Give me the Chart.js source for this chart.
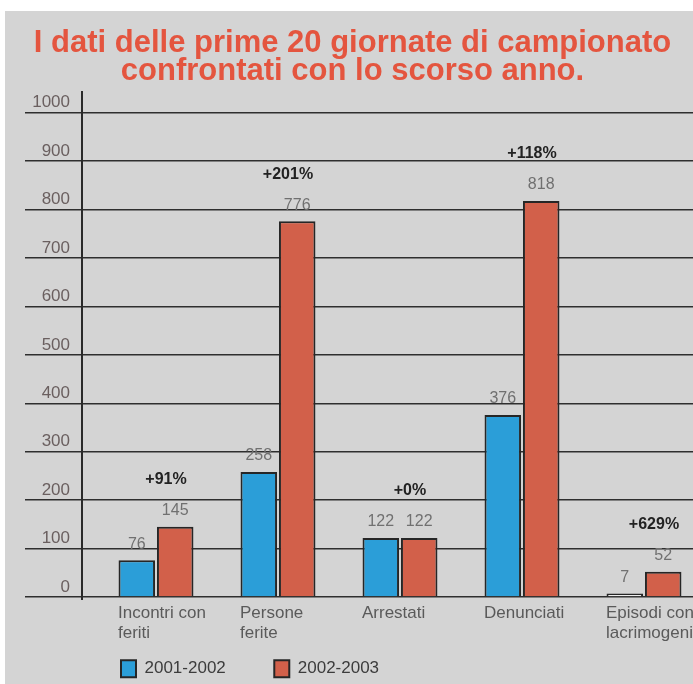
<!DOCTYPE html>
<html><head><meta charset="utf-8">
<script src="https://cdn.jsdelivr.net/npm/chart.js@4"></script>
<style>
html,body{margin:0;padding:0;background:#fff;overflow:hidden;width:693px;height:684px;}
#bg{position:absolute;left:5px;top:11px;width:700px;height:673px;background:#d4d4d4;}
#c{position:absolute;left:0;top:0;}
</style></head><body>
<div id="bg"></div>
<canvas id="c" width="705" height="684"></canvas>
<script>
const categories = [['Incontri con','feriti'],['Persone','ferite'],['Arrestati'],['Denunciati'],['Episodi con','lacrimogeni']];
const season2001 = [76, 258, 122, 376, 7];
const season2002 = [145, 776, 122, 818, 52];
const changeLabels = ['+91%', '+201%', '+0%', '+118%', '+629%'];
const seriesNames = ['2001-2002', '2002-2003'];
const titleLines = ['I dati delle prime 20 giornate di campionato', 'confrontati con lo scorso anno.'];

const FONT = '"Liberation Sans", Arial, sans-serif';
const BLUE = '#2b9ed8', RED = '#d2604a', EDGE = '#262626';

const annot = {
  id: 'annot',
  afterDatasetsDraw(chart) {
    const ctx = chart.ctx, a = chart.chartArea, ys = chart.scales.y, xs = chart.scales.x;
    ctx.save();
    ctx.strokeStyle = '#2a2a2a'; ctx.lineWidth = 2;
    ctx.beginPath();
    ctx.moveTo(a.left - 13, ys.getPixelForValue(1045));
    ctx.lineTo(a.left - 13, a.bottom + 3);
    ctx.stroke();
    ctx.textAlign = 'center'; ctx.textBaseline = 'middle';
    ctx.font = '16px ' + FONT; ctx.fillStyle = '#707070';
    chart.data.datasets.forEach((ds, di) => {
      chart.getDatasetMeta(di).data.forEach((bar, i) => {
        ctx.fillText(String(ds.data[i]), bar.x, bar.y - 16);
      });
    });
    ctx.font = 'bold 16px ' + FONT; ctx.fillStyle = '#222';
    const m0 = chart.getDatasetMeta(0), m1 = chart.getDatasetMeta(1);
    changeLabels.forEach((t, i) => {
      const top = Math.min(m0.data[i].y, m1.data[i].y);
      ctx.fillText(t, xs.getPixelForValue(i) + 10, top - 47);
    });
    ctx.restore();
  }
};

new Chart(document.getElementById('c'), {
  type: 'bar',
  data: {
    labels: categories,
    datasets: [
      { label: seriesNames[0], data: season2001, backgroundColor: [BLUE, BLUE, BLUE, BLUE, '#eeeeee'], borderColor: EDGE, borderWidth: 2 },
      { label: seriesNames[1], data: season2002, backgroundColor: RED, borderColor: EDGE, borderWidth: 2 }
    ]
  },
  options: {
    responsive: false, animation: false, devicePixelRatio: 1,
    layout: { padding: 0 },
    datasets: { bar: { categoryPercentage: 0.63, barPercentage: 0.95 } },
    plugins: {
      title: { display: true, text: titleLines, color: '#e4553f',
        font: { family: FONT, size: 31, weight: 'bold', lineHeight: 0.9 }, padding: { top: 30, bottom: 27 } },
      legend: { position: 'bottom', align: 'start', fullSize: false, maxHeight: 25,
        labels: { boxWidth: 15, boxHeight: 17, padding: 1.25, color: '#3c3c3c', font: { family: FONT, size: 17 },
          generateLabels(chart) {
            const cols = [BLUE, RED];
            const items = [{ text: '', fillStyle: 'rgba(0,0,0,0)', strokeStyle: 'rgba(0,0,0,0)', lineWidth: 0, hidden: false }];
            chart.data.datasets.forEach((ds, i) => items.push({
              text: i === 0 ? ds.label + '          ' : ds.label,
              fillStyle: cols[i], strokeStyle: EDGE, lineWidth: 2, datasetIndex: i, hidden: false, fontColor: '#3c3c3c'
            }));
            return items;
          } } },
      tooltip: { enabled: false }
    },
    scales: {
      x: {
        grid: { display: false, drawTicks: false }, border: { display: false },
        ticks: { align: 'start', labelOffset: -38, padding: 6, color: '#5a5a5a', font: { family: FONT, size: 17 }, maxRotation: 0, autoSkip: false },
        afterFit(s) { s.height = 62; s.paddingLeft = 0; s.paddingRight = 0; }
      },
      y: {
        min: 0, max: 1000,
        ticks: { stepSize: 100, padding: -45, labelOffset: -10, color: '#6a5f5f', font: { family: FONT, size: 17 },
          callback: (v) => String(v) },
        grid: { color: '#2e2e2e', lineWidth: 1.5, tickLength: 70, drawTicks: true },
        border: { display: false },
        afterFit(s) { s.width = 95; s.paddingTop = 0; s.paddingBottom = 0; }
      }
    }
  },
  plugins: [annot]
});
</script>
</body></html>
